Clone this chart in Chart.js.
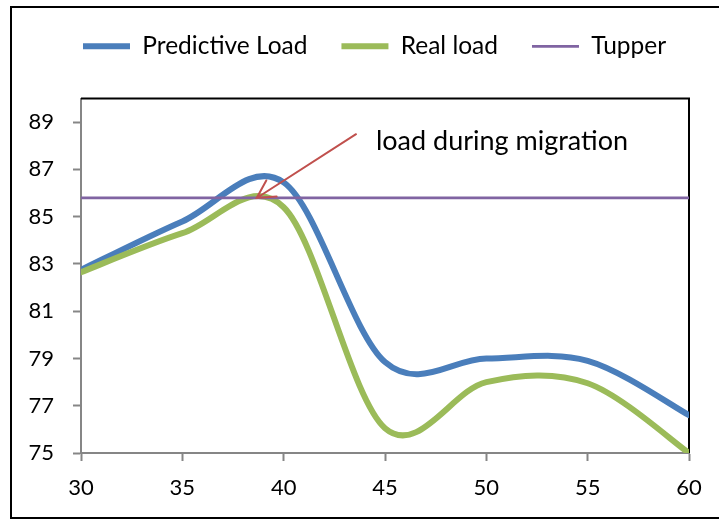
<!DOCTYPE html>
<html>
<head>
<meta charset="utf-8">
<title>Load during migration</title>
<script src="https://cdn.jsdelivr.net/npm/chart.js@4.4.1/dist/chart.umd.min.js"></script>
<style>
  html, body { margin: 0; padding: 0; background: #fff; }
  #wrap { position: relative; width: 719px; height: 520px; overflow: hidden; }
  #frame { position: absolute; left: 10px; top: 6px; width: 760px; height: 509px; border: 2px solid #000; }
  canvas { position: absolute; left: 0; top: 0; }
</style>
</head>
<body>
<div id="wrap">
  <div id="frame"></div>
  <canvas id="grafico" width="719" height="520"></canvas>
</div>
<script>
// sample times shared by both load curves
const tempos = [30, 35, 40, 45, 50, 55, 60];
const cargaPrevista = [82.75, 84.8, 86.45, 78.85, 79.0, 78.9, 76.6];
const cargaReal = [82.65, 84.3, 85.4, 76.05, 78.0, 77.95, 75.0];
const tupper = 85.8;

const ticksX = [30, 35, 40, 45, 50, 55, 60];
const ticksY = [75, 77, 79, 81, 83, 85, 87, 89];

// arrow + note, in data units
const nota = { texto: "load during migration", x: 44.55, y: 88.2 };
const seta = { de: [43.57, 88.49], para: [38.67, 85.79] };

const fonte = "Lato";

const pontos = (ys) => tempos.map((t, i) => ({ x: t, y: ys[i] }));

// legend sits over the plot, left-aligned with the axis labels
const posLegenda = {
  id: "posLegenda",
  afterLayout(chart) {
    const lg = chart.legend;
    const dx = 49 - lg.left, dy = 0 - lg.top;
    lg.left += dx; lg.right += dx;
    lg.top += dy; lg.bottom += dy;
  }
};

// spreadsheet-style smoothing: tangent = (next - prev) / 6 at every point
const suavizar = {
  id: "suavizar",
  beforeDatasetsDraw(chart) {
    chart.data.datasets.forEach((ds, i) => {
      if (!ds.tension) return;
      const meta = chart.getDatasetMeta(i);
      meta.dataset.updateControlPoints(chart.chartArea);
      const pts = meta.data;
      pts.forEach((p, j) => {
        const ant = pts[Math.max(j - 1, 0)];
        const prox = pts[Math.min(j + 1, pts.length - 1)];
        const dx = (prox.x - ant.x) / 6, dy = (prox.y - ant.y) / 6;
        p.cp1x = p.x - dx; p.cp1y = p.y - dy;
        p.cp2x = p.x + dx; p.cp2y = p.y + dy;
      });
    });
  }
};

// black top/right edges of the plot area
const bordaPlot = {
  id: "bordaPlot",
  beforeDatasetsDraw(chart) {
    const { ctx, chartArea: a } = chart;
    ctx.save();
    ctx.strokeStyle = "#000";
    ctx.lineWidth = 2;
    ctx.beginPath();
    ctx.moveTo(a.left, a.top);
    ctx.lineTo(a.right, a.top);
    ctx.lineTo(a.right, a.bottom);
    ctx.stroke();
    ctx.restore();
  }
};

const anotacao = {
  id: "anotacao",
  afterDatasetsDraw(chart) {
    const { ctx, scales: { x, y } } = chart;
    const x1 = x.getPixelForValue(seta.de[0]), y1 = y.getPixelForValue(seta.de[1]);
    const x2 = x.getPixelForValue(seta.para[0]), y2 = y.getPixelForValue(seta.para[1]);
    const ang = Math.atan2(y1 - y2, x1 - x2);
    const ponta = 20;
    ctx.save();
    ctx.strokeStyle = "#C0504D";
    ctx.lineWidth = 2;
    ctx.lineCap = "round";
    ctx.beginPath();
    ctx.moveTo(x1, y1);
    ctx.lineTo(x2, y2);
    ctx.moveTo(x2 + ponta * Math.cos(ang - 0.5), y2 + ponta * Math.sin(ang - 0.5));
    ctx.lineTo(x2, y2);
    ctx.lineTo(x2 + ponta * Math.cos(ang + 0.5), y2 + ponta * Math.sin(ang + 0.5));
    ctx.stroke();

    ctx.fillStyle = "#000";
    ctx.font = "27px " + fonte;
    ctx.textBaseline = "middle";
    ctx.fillText(nota.texto, x.getPixelForValue(nota.x), y.getPixelForValue(nota.y));
    ctx.restore();
  }
};

new Chart(document.getElementById("grafico"), {
  type: "line",
  data: {
    datasets: [
      {
        label: "Predictive Load",
        data: pontos(cargaPrevista),
        borderColor: "#4A7EBB",
        borderWidth: 6,
        tension: 0.4,
        order: 2
      },
      {
        label: "Real load",
        data: pontos(cargaReal),
        borderColor: "#9BBB59",
        borderWidth: 6,
        tension: 0.4,
        order: 1
      },
      {
        label: "Tupper",
        data: [{ x: 30, y: tupper }, { x: 60, y: tupper }],
        borderColor: "#8064A2",
        borderWidth: 2.75,
        order: 0
      }
    ]
  },
  options: {
    responsive: false,
    animation: false,
    layout: { padding: { left: 0, right: 30, top: 30, bottom: 0 } },
    elements: {
      point: { radius: 0, hoverRadius: 0 },
      line: { borderCapStyle: "round", borderJoinStyle: "round", fill: false }
    },
    plugins: {
      tooltip: { enabled: false },
      legend: {
        position: "top",
        align: "start",
        labels: {
          usePointStyle: true,
          pointStyle: "line",
          pointStyleWidth: 47,
          padding: 34,
          color: "#000",
          font: { family: fonte, size: 24.5 },
          sort: (a, b) => a.datasetIndex - b.datasetIndex
        }
      }
    },
    scales: {
      x: {
        type: "linear",
        min: 30,
        max: 60,
        afterFit: (s) => { s.height = 67; },
        afterBuildTicks: (s) => { s.ticks = ticksX.map(v => ({ value: v })); },
        grid: { drawOnChartArea: false, tickLength: 8, tickWidth: 2, tickColor: "#868686" },
        border: { color: "#868686", width: 2 },
        ticks: { color: "#000", padding: 14, maxRotation: 0, font: { family: fonte, size: 22 } }
      },
      y: {
        min: 75,
        max: 90,
        afterFit: (s) => { s.width = 81; },
        afterBuildTicks: (s) => { s.ticks = ticksY.map(v => ({ value: v })); },
        grid: { drawOnChartArea: false, tickLength: 8, tickWidth: 2, tickColor: "#868686" },
        border: { color: "#868686", width: 2 },
        ticks: { color: "#000", padding: 19, font: { family: fonte, size: 22 } }
      }
    }
  },
  plugins: [posLegenda, suavizar, bordaPlot, anotacao]
});
</script>
</body>
</html>
